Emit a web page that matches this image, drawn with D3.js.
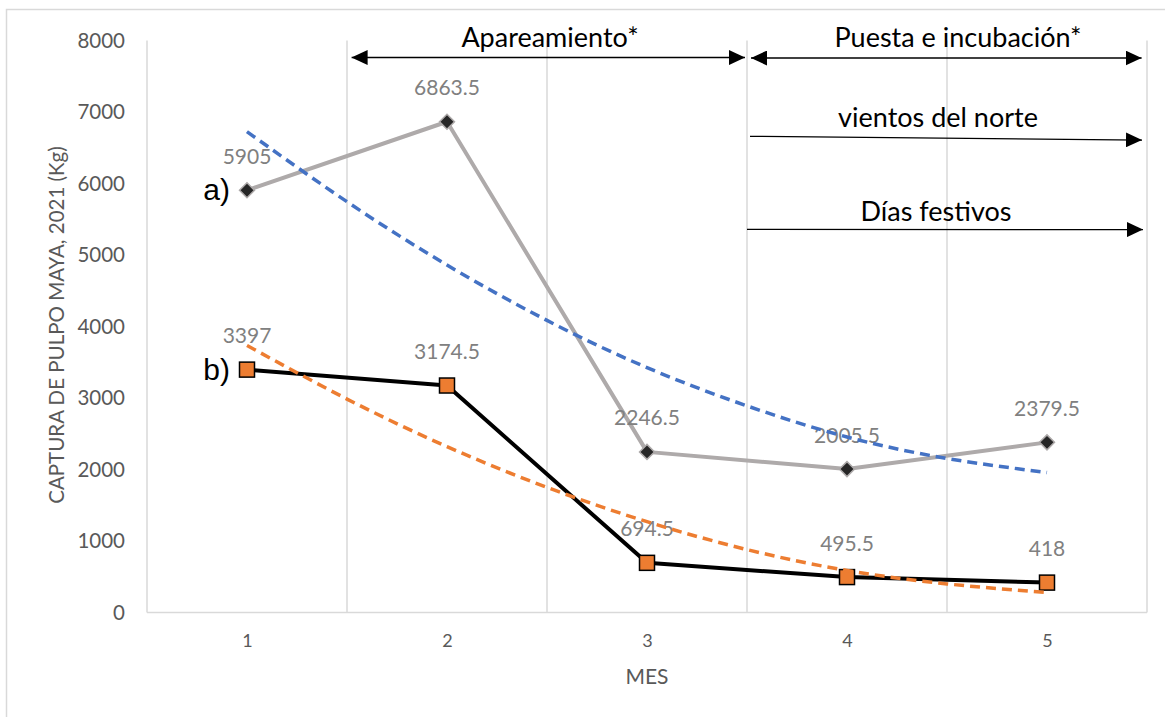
<!DOCTYPE html>
<html>
<head>
<meta charset="utf-8">
<script src="https://cdn.jsdelivr.net/npm/d3@7"></script>
<style>
  html, body { margin: 0; padding: 0; background: #ffffff; }
  svg { display: block; }
</style>
</head>
<body>
<div id="chart"></div>
<script>
// Captura mensual de pulpo maya (kg), 2021
const months = [1, 2, 3, 4, 5];
const seriesA = [5905, 6863.5, 2246.5, 2005.5, 2379.5];
const seriesB = [3397, 3174.5, 694.5, 495.5, 418];

const trendMonths = [1, 1.5, 2, 2.5, 3, 3.5, 4, 4.5, 5];
const trendA = [6725, 5745, 4860, 4085, 3425, 2890, 2455, 2155, 1958];
const trendB = [3735, 2985, 2320, 1750, 1270, 880, 588, 400, 280];

const yTicks = [0, 1000, 2000, 3000, 4000, 5000, 6000, 7000, 8000];
const seriesNames = ["a)", "b)"];

// Periodos anotados sobre el gráfico (en unidades de mes y kg)
const periodLabels = ["Apareamiento*", "Puesta e incubación*", "vientos del norte", "Días festivos"];
const periodStart = [1.523, 3.52, 3.515, 3.5];
const periodEnd = [3.49, 5.473, 5.475, 5.48];
const periodLevelStart = [7762, 7755, 6660, 5358];
const periodLevelEnd = [7762, 7755, 6608, 5355];
const periodDoubleHead = [true, true, false, false];
const periodTextX = [2.515, 4.555, 4.455, 4.445];
const periodTextLevel = [7912, 7915, 6795, 5482];

const W = 1165, H = 717;
const margin = { top: 40.5, right: 18, bottom: 104.5, left: 147 };

const svg = d3.select("#chart").append("svg")
  .attr("width", W).attr("height", H);

// outer chart frame
svg.append("rect")
  .attr("x", 6.5).attr("y", 9.5)
  .attr("width", W + 20).attr("height", H + 20)
  .attr("fill", "none").attr("stroke", "#d9d9d9").attr("stroke-width", 1.5);

const x = d3.scaleLinear().domain([0.5, 5.5]).range([margin.left, W - margin.right]);
const y = d3.scaleLinear().domain([0, 8000]).range([H - margin.bottom, margin.top]);

// vertical category gridlines
svg.append("g")
  .selectAll("line")
  .data(d3.range(0.5, 5.6, 1))
  .join("line")
  .attr("x1", d => x(d)).attr("x2", d => x(d))
  .attr("y1", y(8000)).attr("y2", y(0))
  .attr("stroke", "#d9d9d9").attr("stroke-width", 1.5);

// horizontal axis line
svg.append("line")
  .attr("x1", x(0.5)).attr("x2", x(5.5))
  .attr("y1", y(0)).attr("y2", y(0))
  .attr("stroke", "#d9d9d9").attr("stroke-width", 1.5);

// y axis labels
const yAxis = svg.append("g")
  .attr("transform", `translate(${x(0.5)},0)`)
  .call(d3.axisLeft(y).tickValues(yTicks).tickSize(0).tickPadding(22).tickFormat(d3.format("d")));
yAxis.select(".domain").remove();
yAxis.selectAll("text")
  .attr("font-family", "Lato, 'Open Sans', sans-serif")
  .attr("font-size", 20.5)
  .attr("fill", "#595959");

// x axis labels
const xAxis = svg.append("g")
  .attr("transform", `translate(0,${y(0)})`)
  .call(d3.axisBottom(x).tickValues(months).tickSize(0).tickPadding(22).tickFormat(d3.format("d")));
xAxis.select(".domain").remove();
xAxis.selectAll("text")
  .attr("font-family", "Lato, 'Open Sans', sans-serif")
  .attr("font-size", 18)
  .attr("fill", "#595959");

// axis titles
svg.append("text")
  .attr("x", x(3)).attr("y", 684)
  .attr("text-anchor", "middle")
  .attr("font-family", "Lato, 'Open Sans', sans-serif")
  .attr("font-size", 21)
  .attr("fill", "#595959")
  .text("MES");

svg.append("text")
  .attr("transform", `translate(64,325) rotate(-90)`)
  .attr("text-anchor", "middle")
  .attr("font-family", "Lato, 'Open Sans', sans-serif")
  .attr("font-size", 20.5)
  .attr("fill", "#595959")
  .text("CAPTURA DE PULPO MAYA, 2021 (Kg)");

const line = d3.line().x(d => x(d[0])).y(d => y(d[1]));
const smooth = d3.line().x(d => x(d[0])).y(d => y(d[1])).curve(d3.curveNatural);

// series a: gray line with dark diamonds
svg.append("path")
  .datum(d3.zip(months, seriesA))
  .attr("d", line)
  .attr("fill", "none").attr("stroke", "#AEAAAA").attr("stroke-width", 4)
  .attr("stroke-linejoin", "round");

svg.append("g").selectAll("path")
  .data(d3.zip(months, seriesA))
  .join("path")
  .attr("transform", d => `translate(${x(d[0])},${y(d[1])}) rotate(45)`)
  .attr("d", "M-5.3,-5.3H5.3V5.3H-5.3Z")
  .attr("fill", "#262626").attr("stroke", "#AEAAAA").attr("stroke-width", 1.5);

// series b: black line with orange squares
svg.append("path")
  .datum(d3.zip(months, seriesB))
  .attr("d", line)
  .attr("fill", "none").attr("stroke", "#000000").attr("stroke-width", 4)
  .attr("stroke-linejoin", "round");

svg.append("g").selectAll("rect")
  .data(d3.zip(months, seriesB))
  .join("rect")
  .attr("x", d => x(d[0]) - 7.5).attr("y", d => y(d[1]) - 7.5)
  .attr("width", 15).attr("height", 15)
  .attr("fill", "#ED7D31").attr("stroke", "#000000").attr("stroke-width", 1.5);

// data labels
const labelFmt = d => String(d);
[seriesA, seriesB].forEach(vals => {
  svg.append("g").selectAll("text")
    .data(d3.zip(months, vals))
    .join("text")
    .attr("x", d => x(d[0]))
    .attr("y", d => y(d[1]) - 26.5)
    .attr("text-anchor", "middle")
    .attr("font-family", "Lato, 'Open Sans', sans-serif")
    .attr("font-size", 21)
    .attr("fill", "#808080")
    .text(d => labelFmt(d[1]));
});

// trend lines
svg.append("path")
  .datum(d3.zip(trendMonths, trendA))
  .attr("d", smooth)
  .attr("fill", "none").attr("stroke", "#4472C4").attr("stroke-width", 3.5)
  .attr("stroke-dasharray", "10,6");

svg.append("path")
  .datum(d3.zip(trendMonths, trendB))
  .attr("d", smooth)
  .attr("fill", "none").attr("stroke", "#ED7D31").attr("stroke-width", 3.5)
  .attr("stroke-dasharray", "10,6");

// series tags
svg.append("g").selectAll("text")
  .data([seriesA[0], seriesB[0]])
  .join("text")
  .attr("x", x(1) - 17)
  .attr("y", d => y(d) + 10)
  .attr("text-anchor", "end")
  .attr("font-family", "'Liberation Sans', Arial, sans-serif")
  .attr("font-size", 30)
  .attr("fill", "#000000")
  .text((d, i) => seriesNames[i]);

// period arrows
const defs = svg.append("defs");
defs.append("marker")
  .attr("id", "head")
  .attr("viewBox", "0 0 16 15")
  .attr("refX", 16).attr("refY", 7.5)
  .attr("markerWidth", 16).attr("markerHeight", 15)
  .attr("markerUnits", "userSpaceOnUse")
  .attr("orient", "auto-start-reverse")
  .append("path").attr("d", "M0,0L16,7.5L0,15Z").attr("fill", "#000");

const periods = periodLabels.map((label, i) => ({
  label,
  x0: periodStart[i], x1: periodEnd[i],
  y0: periodLevelStart[i], y1: periodLevelEnd[i],
  both: periodDoubleHead[i],
  tx: periodTextX[i], ty: periodTextLevel[i]
}));

const pg = svg.append("g").selectAll("g").data(periods).join("g");
pg.append("line")
  .attr("x1", d => x(d.x0)).attr("x2", d => x(d.x1))
  .attr("y1", d => y(d.y0)).attr("y2", d => y(d.y1))
  .attr("stroke", "#000").attr("stroke-width", 1.3)
  .attr("marker-end", "url(#head)")
  .attr("marker-start", d => d.both ? "url(#head)" : null);
pg.append("text")
  .attr("x", d => x(d.tx)).attr("y", d => y(d.ty))
  .attr("text-anchor", "middle")
  .attr("font-family", "Lato, 'Open Sans', sans-serif")
  .attr("font-size", 27)
  .attr("fill", "#000")
  .text(d => d.label);
</script>
</body>
</html>
